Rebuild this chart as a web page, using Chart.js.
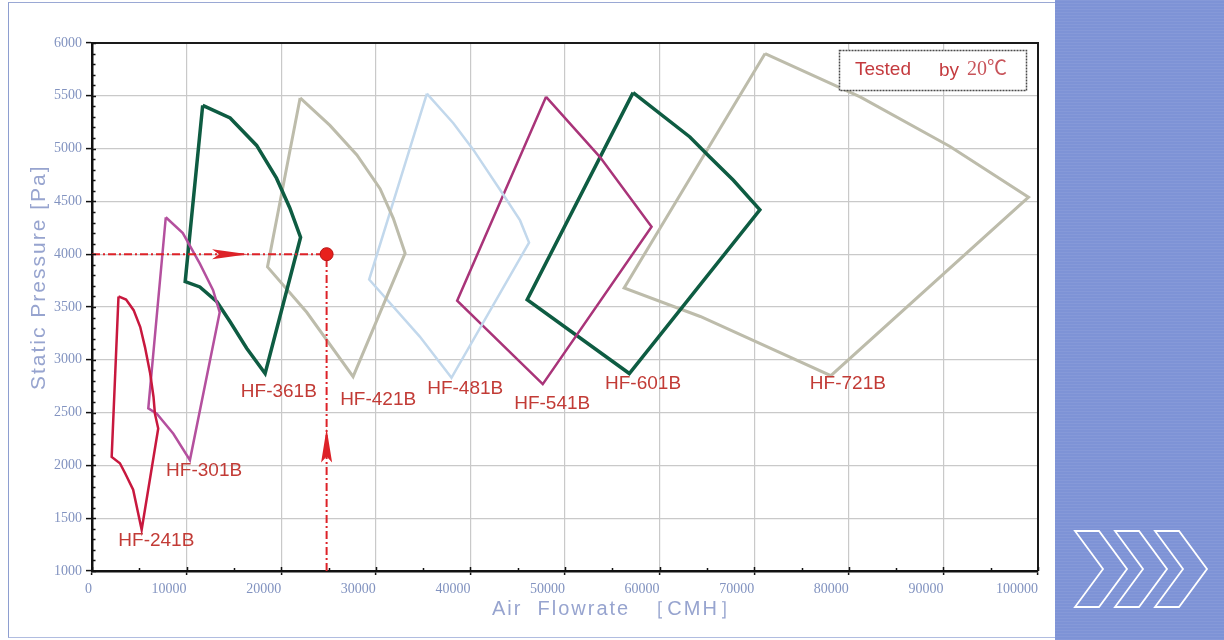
<!DOCTYPE html>
<html>
<head>
<meta charset="utf-8">
<script src="https://cdn.jsdelivr.net/npm/chart.js@4.4.0/dist/chart.umd.min.js"></script>
<style>
    html, body { margin: 0; padding: 0; background: #fff; }
    #page { position: relative; width: 1224px; height: 640px; overflow: hidden; background: #fff; }
    #frame {
        position: absolute; left: 8px; top: 2px; width: 1047px; height: 636px; box-sizing: border-box;
        border-top: 1px solid #9aa8d4; border-left: 1px solid #8e9ed0; border-bottom: 1px solid #b0bce0;
    }
    #panel {
        position: absolute; left: 1055px; top: 0; width: 169px; height: 640px;
        background-color: #7e93d6;
        background-image: repeating-linear-gradient(0deg, rgba(255,255,255,0.06) 0 1px, rgba(0,0,0,0) 1px 3px);
    }
    #chevrons { position: absolute; left: 1070px; top: 528px; }
    #wrap { position: absolute; left: 0; top: 0; width: 1224px; height: 640px; }
</style>
</head>
<body>
<div id="page">
    <div id="frame"></div>
    <div id="panel"></div>
    <svg id="chevrons" width="150" height="85" viewBox="0 0 150 85">
        <g fill="none" stroke="#fff" stroke-width="1.8" stroke-linejoin="miter">
            <polygon points="5,3 29,3 57,41 29,79 5,79 33,41"/>
            <polygon points="45,3 69,3 97,41 69,79 45,79 73,41"/>
            <polygon points="85,3 109,3 137,41 109,79 85,79 113,41"/>
        </g>
    </svg>
    <div id="wrap"><canvas id="fan-chart"></canvas></div>
</div>
<script>
// axis ticks
const FLOW_TICKS = [0, 10000, 20000, 30000, 40000, 50000, 60000, 70000, 80000, 90000, 100000];
const PRESSURE_TICKS = [1000, 1500, 2000, 2500, 3000, 3500, 4000, 4500, 5000, 5500, 6000];

const MODELS = ['HF-241B', 'HF-301B', 'HF-361B', 'HF-421B', 'HF-481B', 'HF-541B', 'HF-601B', 'HF-721B'];

const HF241B_FLOW = [2800, 3600, 4400, 5100, 5600, 6150, 6500, 6650, 7000, 5250, 4350, 3500, 2950, 2080];
const HF241B_PRESSURE = [3600, 3570, 3470, 3310, 3120, 2870, 2650, 2490, 2350, 1390, 1770, 1925, 2020, 2080];

const HF301B_FLOW = [7800, 9600, 11400, 12800, 13500, 10350, 8600, 6850, 5950];
const HF301B_PRESSURE = [4350, 4200, 3910, 3660, 3450, 2050, 2300, 2490, 2540];

const HF361B_FLOW = [11700, 14600, 17400, 19500, 20900, 22050, 18300, 16350, 14600, 13200, 11400, 9850];
const HF361B_PRESSURE = [5410, 5290, 5030, 4720, 4440, 4160, 2870, 3110, 3360, 3550, 3690, 3740];

const HF421B_FLOW = [22000, 25150, 28000, 30450, 31850, 33100, 27600, 22700, 18550];
const HF421B_PRESSURE = [5480, 5220, 4940, 4620, 4340, 4010, 2840, 3450, 3880];

const HF481B_FLOW = [35400, 38200, 40300, 43500, 45250, 46200, 38000, 34650, 29300];
const HF481B_PRESSURE = [5520, 5240, 4990, 4560, 4320, 4110, 2830, 3220, 3760];

const HF541B_FLOW = [48000, 53700, 59150, 47650, 38600];
const HF541B_PRESSURE = [5490, 4920, 4260, 2770, 3560];

const HF601B_FLOW = [57200, 63200, 65300, 67800, 70600, 56800, 46000];
const HF601B_PRESSURE = [5530, 5110, 4920, 4700, 4420, 2870, 3570];

const HF721B_FLOW = [71150, 81200, 90700, 99000, 78100, 64300, 56250];
const HF721B_PRESSURE = [5900, 5490, 5020, 4540, 2850, 3410, 3680];

// where each model name sits (data units)
const LABEL_FLOW = [6800, 11850, 19750, 30250, 39450, 48650, 58250, 79900];
const LABEL_PRESSURE = [1290, 1950, 2700, 2620, 2730, 2580, 2770, 2770];

// selection example: duty point and arrow tips
const DUTY_FLOW = 24800;
const DUTY_PRESSURE = 4000;
const ARROW_H_FLOW = 16500;
const ARROW_V_PRESSURE = 2350;

const LEGEND_NOTE = ['Tested', 'by', '20℃'];

const RED = '#dd2228';
const LABEL_RED = '#c23b36';
const AXIS_TEXT = '#8293c0';

const curveStyles = [
    { color: '#c8183e', width: 2.5 },
    { color: '#b4509e', width: 2.5 },
    { color: '#0e5c42', width: 3.5 },
    { color: '#bdbcab', width: 3 },
    { color: '#c2d8ec', width: 2.5 },
    { color: '#a93479', width: 2.5 },
    { color: '#0e5c42', width: 3.5 },
    { color: '#bdbcab', width: 3 }
];

const curveData = [
    [HF241B_FLOW, HF241B_PRESSURE],
    [HF301B_FLOW, HF301B_PRESSURE],
    [HF361B_FLOW, HF361B_PRESSURE],
    [HF421B_FLOW, HF421B_PRESSURE],
    [HF481B_FLOW, HF481B_PRESSURE],
    [HF541B_FLOW, HF541B_PRESSURE],
    [HF601B_FLOW, HF601B_PRESSURE],
    [HF721B_FLOW, HF721B_PRESSURE]
];

function closedLoop(flow, pressure) {
    const pts = flow.map((x, i) => ({ x: x, y: pressure[i] }));
    pts.push(pts[0]);
    return pts;
}

const datasets = [
    {
        label: 'duty point',
        data: [{ x: DUTY_FLOW, y: DUTY_PRESSURE }],
        showLine: false,
        pointRadius: 6.5,
        pointBackgroundColor: '#e8201c',
        pointBorderColor: '#b81414',
        pointBorderWidth: 1
    },
    {
        label: 'pressure guide',
        data: [{ x: FLOW_TICKS[0], y: DUTY_PRESSURE }, { x: DUTY_FLOW, y: DUTY_PRESSURE }],
        showLine: true,
        borderColor: RED,
        borderWidth: 2,
        borderDash: [8, 3, 2, 3],
        pointRadius: 0
    },
    {
        label: 'flow guide',
        data: [{ x: DUTY_FLOW, y: PRESSURE_TICKS[0] }, { x: DUTY_FLOW, y: DUTY_PRESSURE }],
        showLine: true,
        borderColor: RED,
        borderWidth: 2,
        borderDash: [8, 3, 2, 3],
        pointRadius: 0
    }
];

MODELS.forEach((name, i) => {
    datasets.push({
        label: name,
        data: closedLoop(curveData[i][0], curveData[i][1]),
        showLine: true,
        borderColor: curveStyles[i].color,
        borderWidth: curveStyles[i].width,
        borderJoinStyle: 'miter',
        pointRadius: 0,
        tension: 0
    });
});

const decorPlugin = {
    id: 'decor',
    afterDatasetsDraw(chart) {
        const { ctx, chartArea: area, scales } = chart;
        const sx = scales.x, sy = scales.y;

        ctx.save();

        // top and right frame
        ctx.strokeStyle = '#1a1a1a';
        ctx.lineWidth = 2;
        ctx.beginPath();
        ctx.moveTo(area.left, area.top);
        ctx.lineTo(area.right, area.top);
        ctx.lineTo(area.right, area.bottom);
        ctx.stroke();

        // small inside ticks
        ctx.strokeStyle = '#111';
        ctx.lineWidth = 1.5;
        ctx.beginPath();
        for (let v = PRESSURE_TICKS[0]; v <= PRESSURE_TICKS[PRESSURE_TICKS.length - 1]; v += 100) {
            const py = Math.round(sy.getPixelForValue(v)) + 0.5;
            ctx.moveTo(area.left, py);
            ctx.lineTo(area.left + (v % 500 === 0 ? 4 : 3.5), py);
        }
        for (let v = FLOW_TICKS[0]; v <= FLOW_TICKS[FLOW_TICKS.length - 1]; v += 5000) {
            const px = Math.round(sx.getPixelForValue(v)) + 0.5;
            ctx.moveTo(px, area.bottom);
            ctx.lineTo(px, area.bottom - (v % 10000 === 0 ? 4 : 3));
        }
        ctx.stroke();

        // arrows
        ctx.fillStyle = RED;
        let tx = sx.getPixelForValue(ARROW_H_FLOW), ty = sy.getPixelForValue(DUTY_PRESSURE);
        ctx.beginPath();
        ctx.moveTo(tx, ty);
        ctx.lineTo(tx - 36, ty - 5);
        ctx.lineTo(tx - 29, ty);
        ctx.lineTo(tx - 36, ty + 5);
        ctx.closePath();
        ctx.fill();
        tx = sx.getPixelForValue(DUTY_FLOW);
        ty = sy.getPixelForValue(ARROW_V_PRESSURE);
        ctx.beginPath();
        ctx.moveTo(tx, ty);
        ctx.lineTo(tx - 5.5, ty + 34);
        ctx.lineTo(tx, ty + 28);
        ctx.lineTo(tx + 5.5, ty + 34);
        ctx.closePath();
        ctx.fill();

        // model names
        ctx.fillStyle = LABEL_RED;
        ctx.font = '19px "Liberation Sans", Arial, sans-serif';
        ctx.textAlign = 'center';
        ctx.textBaseline = 'middle';
        MODELS.forEach((name, i) => {
            ctx.fillText(name, sx.getPixelForValue(LABEL_FLOW[i]), sy.getPixelForValue(LABEL_PRESSURE[i]));
        });

        // note box
        const bx = area.right - 199, by = area.top + 7;
        ctx.fillStyle = '#fff';
        ctx.fillRect(bx, by, 187, 40);
        ctx.strokeStyle = '#4a4a4a';
        ctx.lineWidth = 1.5;
        ctx.setLineDash([2, 1]);
        ctx.strokeRect(bx + 0.5, by + 0.5, 187, 40);
        ctx.setLineDash([]);
        ctx.textAlign = 'left';
        ctx.fillStyle = '#c43a3e';
        ctx.font = '19px "Liberation Sans", Arial, sans-serif';
        ctx.fillText(LEGEND_NOTE[0], bx + 16, by + 20);
        ctx.fillText(LEGEND_NOTE[1], bx + 100, by + 21);
        ctx.fillStyle = '#c8545a';
        ctx.font = '20px "Liberation Serif", "Noto Sans CJK JP", serif';
        ctx.fillText(LEGEND_NOTE[2], bx + 128, by + 20);

        // axis titles
        ctx.fillStyle = '#97a4cf';
        ctx.font = '20px "Liberation Sans", Arial, sans-serif';
        ctx.letterSpacing = '2px';
        ctx.textAlign = 'left';
        ctx.fillText('Air  Flowrate  ［CMH］', area.left + 400, area.bottom + 38);
        ctx.translate(39, area.bottom - 181);
        ctx.rotate(-Math.PI / 2);
        ctx.letterSpacing = '2px';
        ctx.font = '21px "Liberation Sans", Arial, sans-serif';
        ctx.fillText('Static Pressure [Pa]', 0, 0);

        ctx.restore();
    }
};

const ctx = document.getElementById('fan-chart');
new Chart(ctx, {
    type: 'scatter',
    data: { datasets: datasets },
    options: {
        responsive: true,
        maintainAspectRatio: false,
        animation: false,
        events: [],
        layout: { padding: { left: 0, top: 43, right: 186, bottom: 0 } },
        plugins: {
            legend: { display: false },
            tooltip: { enabled: false }
        },
        scales: {
            x: {
                type: 'linear',
                min: FLOW_TICKS[0],
                max: FLOW_TICKS[FLOW_TICKS.length - 1],
                afterBuildTicks: s => { s.ticks = FLOW_TICKS.map(v => ({ value: v })); },
                afterFit: s => { s.height = 69; },
                border: { color: '#111', width: 2.5 },
                grid: { color: '#c9c9c9', lineWidth: 1.2, tickColor: '#111', tickLength: 4, tickWidth: 1.5 },
                ticks: {
                    align: 'end',
                    padding: 6,
                    color: AXIS_TEXT,
                    font: { family: '"Liberation Serif", serif', size: 14 },
                    callback: v => String(v)
                }
            },
            y: {
                type: 'linear',
                min: PRESSURE_TICKS[0],
                max: PRESSURE_TICKS[PRESSURE_TICKS.length - 1],
                afterBuildTicks: s => { s.ticks = PRESSURE_TICKS.map(v => ({ value: v })); },
                afterFit: s => { s.width = 92; },
                border: { color: '#111', width: 2.5 },
                grid: { color: '#c9c9c9', lineWidth: 1.2, tickColor: '#111', tickLength: 6, tickWidth: 1.5 },
                ticks: {
                    padding: 4,
                    color: AXIS_TEXT,
                    font: { family: '"Liberation Serif", serif', size: 14 },
                    callback: v => String(v)
                }
            }
        }
    },
    plugins: [decorPlugin]
});
</script>
</body>
</html>
